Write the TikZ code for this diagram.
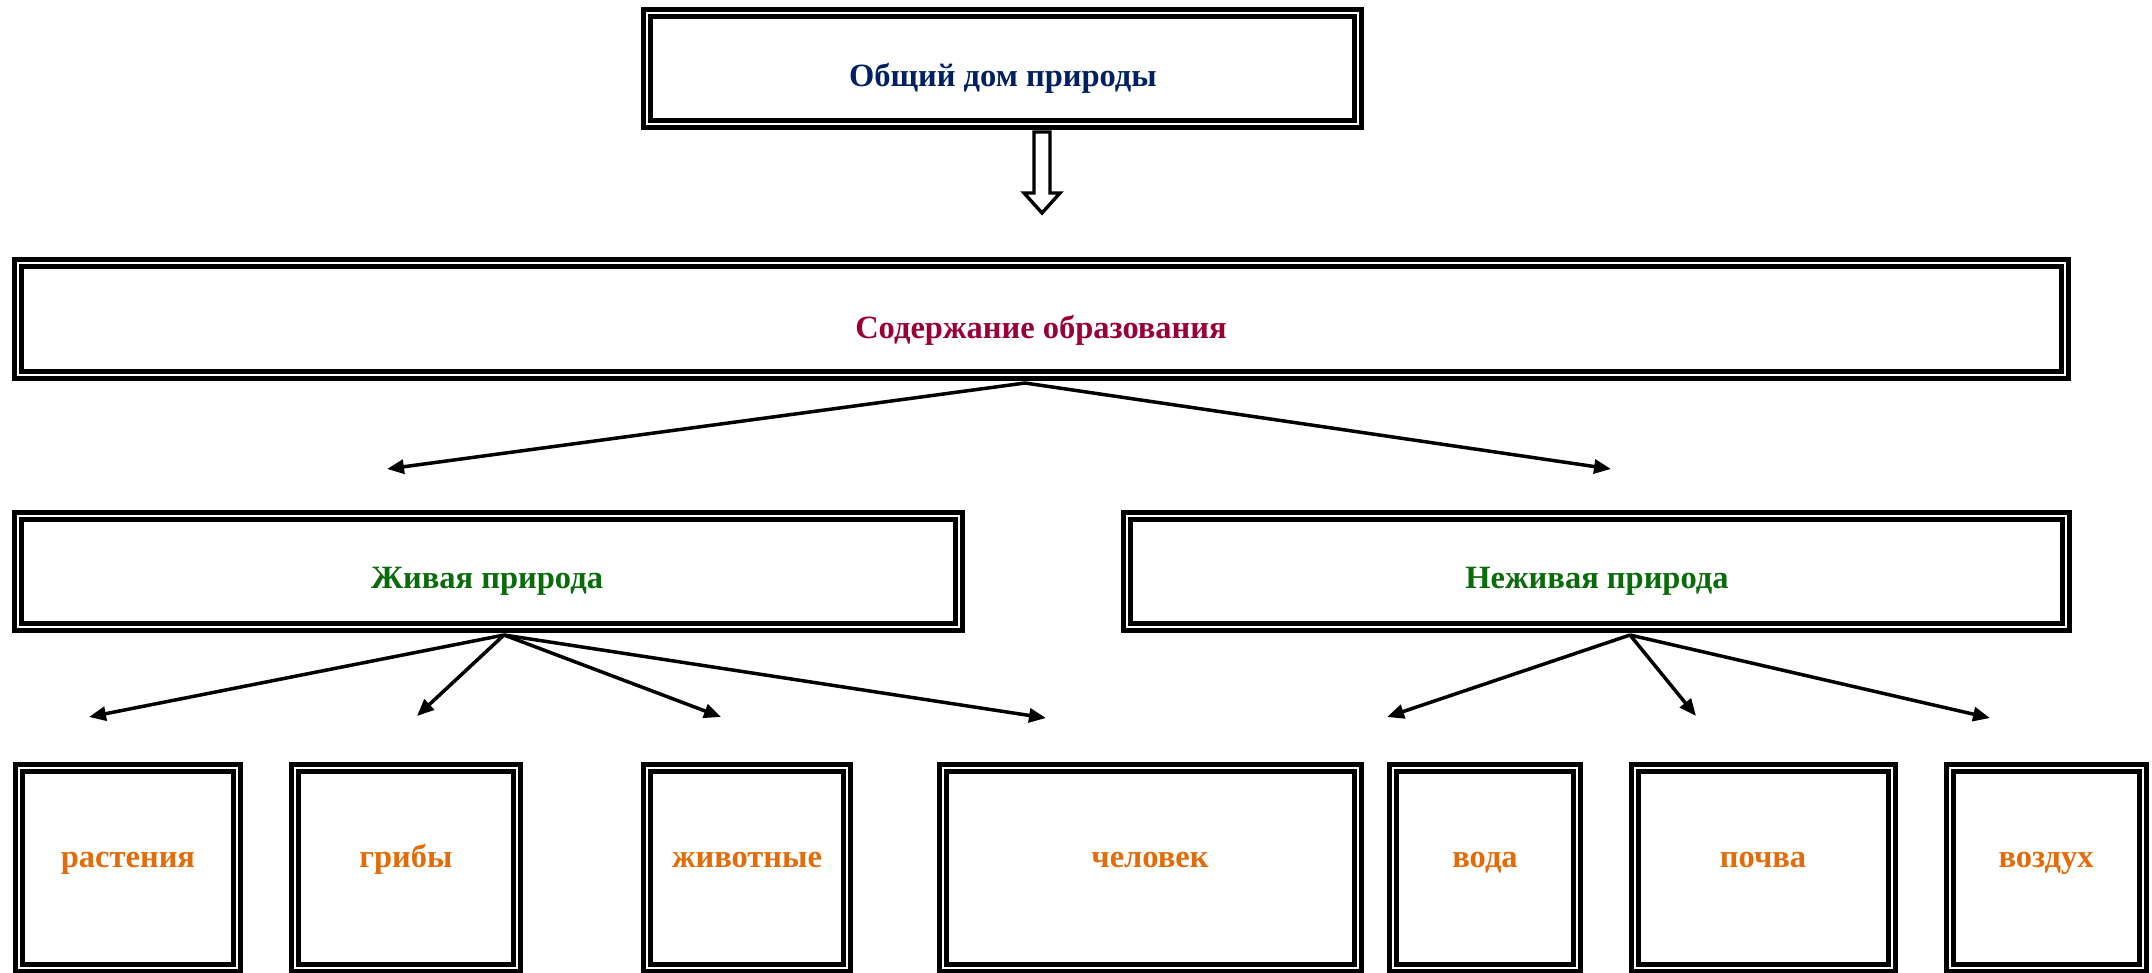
\documentclass[tikz,border=0pt]{standalone}
\usepackage{fontspec}
\setmainfont{Liberation Serif}
\usetikzlibrary{arrows.meta,fit}
\definecolor{navyc}{HTML}{002060}
\definecolor{crimc}{HTML}{990038}
\definecolor{greenc}{HTML}{0A6B0A}
\definecolor{orangec}{HTML}{E36C0A}
\begin{document}
\begin{tikzpicture}[x=0.5pt,y=-0.5pt,
  dbox/.style={draw=black, line width=2.4pt, double=white, double distance=1.4pt, inner sep=0pt, fill=white},
  lbl/.style={anchor=base, font=\fontsize{16.25}{19}\selectfont\bfseries, inner sep=0pt},
  arr/.style={line width=1.75pt, -{Triangle[length=8.5pt,width=7pt]}},
  hollow/.style={draw=black, line width=1.7pt, fill=white, line join=miter}]
\useasboundingbox (0,0) rectangle (2152,973);
% boxes
\node[dbox, fit={(647,13) (1358,124)}] (top) {};
\node[dbox, fit={(18,263) (2065,375)}] (content) {};
\node[dbox, fit={(18,516) (959,627)}] (live) {};
\node[dbox, fit={(1127,516) (2066,627)}] (nonlive) {};
\node[dbox, fit={(19,768) (237,968)}] (b1) {};
\node[dbox, fit={(295,768) (517,968)}] (b2) {};
\node[dbox, fit={(647,768) (847,968)}] (b3) {};
\node[dbox, fit={(943,768) (1358,968)}] (b4) {};
\node[dbox, fit={(1393,768) (1577,968)}] (b5) {};
\node[dbox, fit={(1635,768) (1892,968)}] (b6) {};
\node[dbox, fit={(1950,768) (2143,968)}] (b7) {};
% labels
\node[lbl, text=navyc] (ttop) at (1003,87) {Общий дом природы};
\node[lbl, text=crimc] (tcontent) at (1041,338) {Содержание образования};
\node[lbl, text=greenc] (tlive) at (487,588) {Живая природа};
\node[lbl, text=greenc] (tnonlive) at (1597,588) {Неживая природа};
\node[lbl, text=orangec] (t1) at (128,867) {растения};
\node[lbl, text=orangec] (t2) at (406,867) {грибы};
\node[lbl, text=orangec] (t3) at (747,867) {животные};
\node[lbl, text=orangec] (t4) at (1150,867) {человек};
\node[lbl, text=orangec] (t5) at (1485,867) {вода};
\node[lbl, text=orangec] (t6) at (1763,867) {почва};
\node[lbl, text=orangec] (t7) at (2046,867) {воздух};
% hollow block arrow
\draw[hollow] (1034,132) -- (1050,132) -- (1050,193) -- (1060,193) -- (1042,213) -- (1024,193) -- (1034,193) -- cycle;
% arrow coordinates
\coordinate (s2) at (1025,383);
\coordinate (e2a) at (387,469);
\coordinate (e2b) at (1611,469);
\coordinate (s3) at (504,635);
\coordinate (e3a) at (89,717);
\coordinate (e3b) at (417,716);
\coordinate (e3c) at (721,717);
\coordinate (e3d) at (1046,718);
\coordinate (s4) at (1630,635);
\coordinate (e4a) at (1387,717);
\coordinate (e4b) at (1696,716);
\coordinate (e4c) at (1990,718);
\draw[arr] (s2) -- (e2a);
\draw[arr] (s2) -- (e2b);
\draw[arr] (s3) -- (e3a);
\draw[arr] (s3) -- (e3b);
\draw[arr] (s3) -- (e3c);
\draw[arr] (s3) -- (e3d);
\draw[arr] (s4) -- (e4a);
\draw[arr] (s4) -- (e4b);
\draw[arr] (s4) -- (e4c);
\end{tikzpicture}
\end{document}
